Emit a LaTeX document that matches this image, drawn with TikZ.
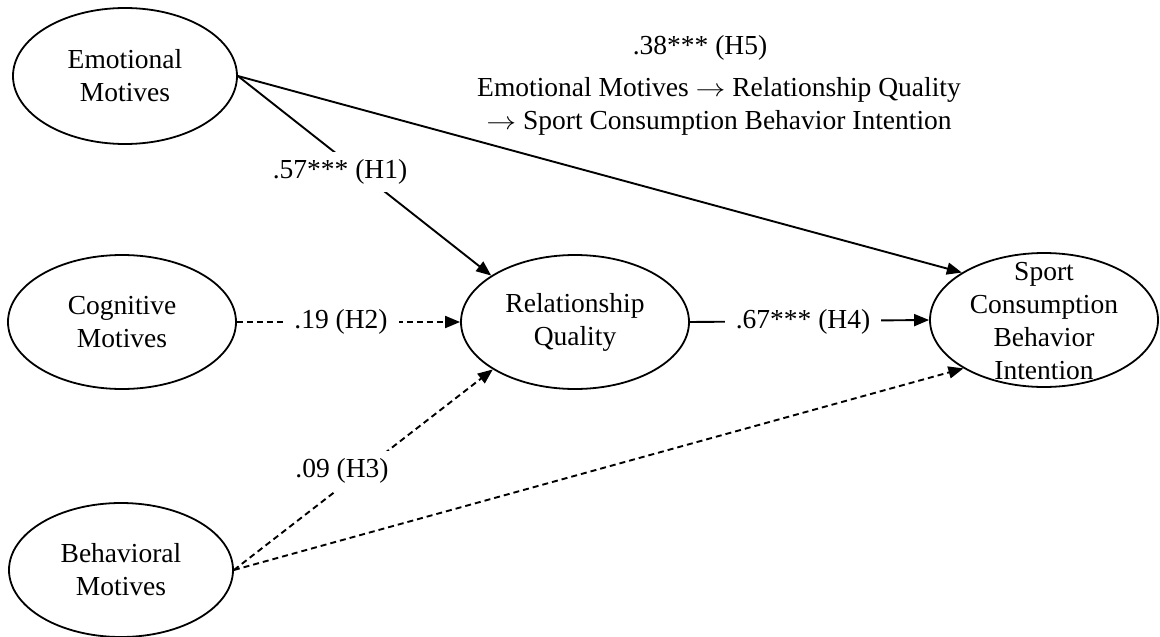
\documentclass[tikz,border=0pt]{standalone}
\usepackage{fontspec}
\setmainfont{Liberation Serif}
\usetikzlibrary{arrows.meta,shapes.geometric,calc}
\newcommand{\myarrow}{\scalebox{1.2}[1]{\(\rightarrow\)}}
\begin{document}
\begin{tikzpicture}[x=1pt,y=-1pt,
  every node/.style={font=\fontsize{27.5}{33}\selectfont},
  latent/.style={draw,ellipse,line width=1.8pt,inner sep=0pt,align=center},
  plaintext/.style={inner sep=0pt,align=center},
  coef/.style={fill=white,inner xsep=11pt,inner ysep=8pt},
  sigline/.style={line width=1.9pt,-{Triangle[length=15pt,width=12pt]}},
  nsline/.style={sigline,dash pattern=on 6pt off 4pt}]
\useasboundingbox (0,0) rectangle (1160,637);

% latent variables
\node[latent,minimum width=224pt,minimum height=136pt] (em) at (125,76) {Emotional\\Motives};
\node[latent,minimum width=228pt,minimum height=134pt] (cog) at (122,322) {Cognitive\\Motives};
\node[latent,minimum width=224pt,minimum height=134pt] (beh) at (121,570) {Behavioral\\Motives};
\node[latent,minimum width=228pt,minimum height=134pt] (rel) at (575,322) {Relationship\\Quality};
\node[latent,minimum width=228pt,minimum height=134pt] (sp) at (1044,320) {};
\node[plaintext] (sptext) at (1044,321) {Sport\\Consumption\\Behavior\\Intention};

% paths
\draw[sigline] (em.east) -- (sp.150);
\draw[sigline] (em.east) -- (rel.151);
\draw[nsline] (cog.east) -- (rel.west);
\draw[sigline] (rel.east) -- (sp.west);
\draw[nsline] (beh.east) -- (rel.210);
\draw[nsline] (beh.east) -- (sp.211);

% coefficients
\node[coef] (h1) at (340,172) {.57*** (H1)};
\node[coef] (h2) at (341,322) {.19 (H2)};
\node[coef] (h3) at (342,471) {.09 (H3)};
\node[coef] (h4) at (803,322) {.67*** (H4)};
\node[plaintext] (h5) at (700,48) {.38*** (H5)};
\node[plaintext] (h5note) at (719,106) {Emotional Motives \myarrow{} Relationship Quality\\\myarrow{} Sport Consumption Behavior Intention};
\end{tikzpicture}
\end{document}
